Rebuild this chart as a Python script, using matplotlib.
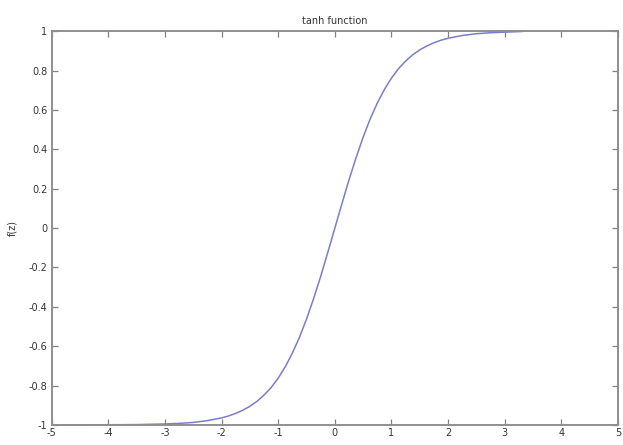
import numpy as np
import matplotlib
matplotlib.use("Agg")
import matplotlib.pyplot as plt

# values
z = [-5, -4.5, -4, -3.5, -3, -2.75, -2.5, -2.25, -2, -1.875, -1.75, -1.625,
     -1.5, -1.375, -1.25, -1.125, -1, -0.875, -0.75, -0.625, -0.5, -0.375,
     -0.25, -0.125, 0, 0.125, 0.25, 0.375, 0.5, 0.625, 0.75, 0.875, 1,
     1.125, 1.25, 1.375, 1.5, 1.625, 1.75, 1.875, 2, 2.25, 2.5, 2.75, 3, 3.3]
fz = [-1.0, -1.0, -0.999, -0.998, -0.995, -0.992, -0.987, -0.978, -0.964,
      -0.954, -0.941, -0.925, -0.905, -0.880, -0.848, -0.810, -0.762,
      -0.704, -0.635, -0.555, -0.462, -0.358, -0.245, -0.124, 0.0, 0.124,
      0.245, 0.358, 0.462, 0.555, 0.635, 0.704, 0.762, 0.810, 0.848, 0.880,
      0.905, 0.925, 0.941, 0.954, 0.964, 0.978, 0.987, 0.992, 0.995, 0.998]

xticks = [-5, -4, -3, -2, -1, 0, 1, 2, 3, 4, 5]
yticks = [-1, -0.8, -0.6, -0.4, -0.2, 0, 0.2, 0.4, 0.6, 0.8, 1]
ylabels = ['-1', '-0.8', '-0.6', '-0.4', '-0.2', '0', '0.2', '0.4', '0.6', '0.8', '1']

fig = plt.figure(figsize=(6.23, 4.45), dpi=100)
ax = fig.add_axes([0.083, 0.045, 0.909, 0.885])

ax.plot(z, fz, color='#7c7cca', lw=1.1)

ax.set_xlim(-5, 5)
ax.set_ylim(-1, 1)
ax.set_xticks(xticks)
ax.set_xticklabels([str(t) for t in xticks])
ax.set_yticks(yticks)
ax.set_yticklabels(ylabels)

for s in ax.spines.values():
    s.set_color('#8f8f8f')
    s.set_linewidth(1.4)
ax.tick_params(direction='in', top=True, right=True, length=4, width=0.9,
               color='#808080', labelsize=7, labelcolor='#333333', pad=3)
ax.tick_params(axis='x', pad=2)

ax.set_title('tanh function', fontsize=7, color='#333333', pad=5)
ax.set_ylabel('f(z)', fontsize=7, color='#333333', labelpad=8)

fig.savefig('out.png', dpi=100)
